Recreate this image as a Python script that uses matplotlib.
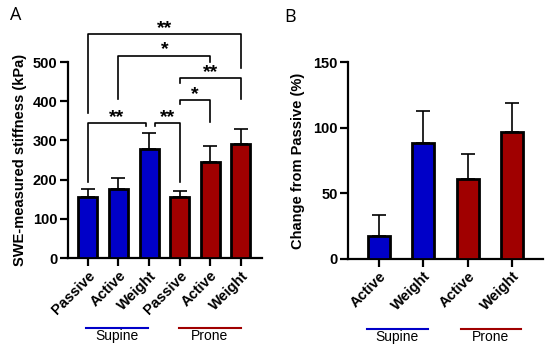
import matplotlib
matplotlib.use("Agg")
import matplotlib.pyplot as plt
import matplotlib.transforms as mtransforms

plt.rcParams['font.family'] = ['Liberation Sans', 'DejaVu Sans']

# Panel A data
a_labels = ["Passive", "Active", "Weight", "Passive", "Active", "Weight"]
a_means = [155, 176, 278, 155, 245, 291]
a_err_top = [177, 204, 320, 172, 286, 330]
a_colors = ["#0000C8", "#0000C8", "#0000C8", "#A00000", "#A00000", "#A00000"]

# Brackets: (left idx, right idx, y bar, left leg bottom, right leg bottom, label, x offsets)
a_brackets = [
    (0, 5, 571, 369, 484, "**", 0.0, 0.0),
    (1, 4, 516, 406, 501, "*", 0.0, 0.0),
    (3, 5, 458, 446, 405, "**", 0.0, 0.0),
    (3, 4, 403, 392, 348, "*", 0.0, 0.0),
    (0, 2, 344, 195, 336, "**", 0.0, -0.1),
    (2, 3, 344, 336, 195, "**", 0.18, 0.0),
]

# Panel B data
b_labels = ["Active", "Weight", "Active", "Weight"]
b_means = [17.5, 88, 61, 97]
b_err_top = [33, 113, 80, 119]
b_colors = ["#0000C8", "#0000C8", "#A00000", "#A00000"]

groups = ["Supine", "Prone"]
group_colors = ["#0000C8", "#A00000"]

fig = plt.figure(figsize=(5.5, 3.51), dpi=100)
axA = fig.add_axes([68/550, 1-258/351, (262-68)/550, 196/351])
axB = fig.add_axes([348/550, 1-258.7/351, (543-348)/550, 196.4/351])

def style(ax):
    for s in ["top", "right"]:
        ax.spines[s].set_visible(False)
    for s in ["left", "bottom"]:
        ax.spines[s].set_linewidth(1.6)
    ax.tick_params(axis="both", width=1.6, length=5.5, direction="out", labelsize=10.5, pad=2)
    for t in ax.get_yticklabels():
        t.set_fontweight("bold")

# Panel A
xa = list(range(len(a_means)))
axA.bar(xa, a_means, width=0.62, color=a_colors, edgecolor="black", linewidth=2, zorder=3)
axA.errorbar(xa, a_means, yerr=[[0]*6, [t-m for t, m in zip(a_err_top, a_means)]],
             fmt="none", ecolor="black", elinewidth=1.2, capsize=5, capthick=1.2, zorder=2)
axA.set_xlim(-0.65, 5.69)
axA.set_ylim(0, 500)
axA.set_yticks([0, 100, 200, 300, 400, 500])
axA.set_xticks(xa)
axA.set_xticklabels(a_labels, rotation=45, ha="right", rotation_mode="anchor", fontweight="bold")
axA.set_ylabel("SWE-measured stiffness (kPa)", fontweight="bold", fontsize=10.5, labelpad=4)
style(axA)

for li, ri, yb, lb, rb, lab, lo, ro in a_brackets:
    x1 = li + lo
    x2 = ri + ro
    axA.plot([x1, x1, x2, x2], [lb, yb, yb, rb], color="black", lw=1.2, clip_on=False, zorder=4)
    axA.annotate(lab, xy=((x1 + x2) / 2, yb), xytext=(0, 1), textcoords="offset points",
                 ha="center", va="baseline", fontsize=14, fontweight="bold", annotation_clip=False)

# Panel B
xb = list(range(len(b_means)))
axB.bar(xb, b_means, width=0.5, color=b_colors, edgecolor="black", linewidth=2, zorder=3)
axB.errorbar(xb, b_means, yerr=[[0]*4, [t-m for t, m in zip(b_err_top, b_means)]],
             fmt="none", ecolor="black", elinewidth=1.2, capsize=5, capthick=1.2, zorder=2)
axB.set_xlim(-0.7, 3.7)
axB.set_ylim(0, 150)
axB.set_yticks([0, 50, 100, 150])
axB.set_xticks(xb)
axB.set_xticklabels(b_labels, rotation=45, ha="right", rotation_mode="anchor", fontweight="bold")
axB.set_ylabel("Change from Passive (%)", fontweight="bold", fontsize=10.5, labelpad=6)
style(axB)

# Group lines
def group_lines(ax, spans, yfrac_line, yfrac_text):
    tr = mtransforms.blended_transform_factory(ax.transData, ax.transAxes)
    for (x1, x2), g, c in zip(spans, groups, group_colors):
        ax.plot([x1, x2], [yfrac_line, yfrac_line], color=c, lw=1.5, transform=tr, clip_on=False)
        ax.text((x1 + x2) / 2, yfrac_text, g, ha="center", va="center", fontsize=10, transform=tr)

group_lines(axA, [(-0.05, 1.95), (2.98, 5.0)], -0.355, -0.40)
group_lines(axB, [(-0.27, 1.1), (1.85, 3.2)], -0.36, -0.40)

fig.text(10/550, 1-15/351, "A", fontsize=13, ha="left", va="center", family=["Open Sans", "DejaVu Sans"])
fig.text(284/550, 1-16.5/351, "B", fontsize=13, ha="left", va="center", family=["Open Sans", "DejaVu Sans"])

fig.savefig("out.png", dpi=100)
